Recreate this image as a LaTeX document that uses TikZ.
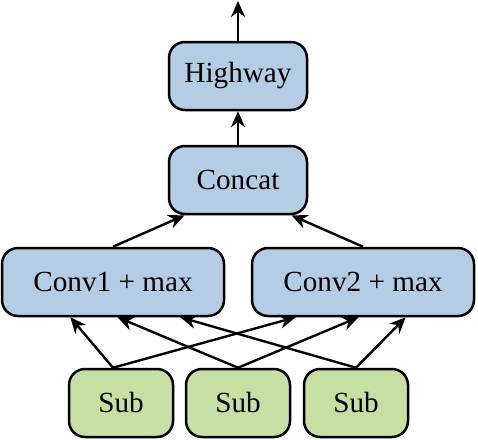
\documentclass[tikz,border=0pt]{standalone}
\usepackage{fontspec}
\setmainfont{Liberation Serif}
\usepackage{tikz}
\usetikzlibrary{arrows.meta}
\usetikzlibrary{calc}
\definecolor{layerblue}{RGB}{180,204,228}
\definecolor{subgreen}{RGB}{198,224,164}
\tikzstyle{block} = [rectangle, rounded corners=8pt, draw=black, line width=1.25pt, minimum height=34pt, align=center, font=\fontsize{14.6}{17}\selectfont]
\tikzstyle{toplayer} = [block, fill=layerblue, minimum width=69pt]
\tikzstyle{convlayer} = [block, fill=layerblue, minimum width=111pt]
\tikzstyle{subcell} = [block, fill=subgreen, minimum width=52pt]
\tikzstyle{arrow} = [-{Stealth[length=8pt, width=7pt]}, line width=1.2pt]

\begin{document}
\begin{tikzpicture}[x=0.5pt, y=-0.5pt]
\useasboundingbox (0,0) rectangle (478,440);
% Upper layers
\node[toplayer] (hw) at (238, 76) {Highway};
\node[toplayer] (cc) at (238, 180) {Concat};
% Convolution layers
\node[convlayer] (c1) at (113, 282) {Conv1 + max};
\node[convlayer] (c2) at (363, 282) {Conv2 + max};
% Sub inputs
\node[subcell] (s1) at (121, 403) {Sub};
\node[subcell] (s2) at (238, 403) {Sub};
\node[subcell] (s3) at (356, 403) {Sub};
% output end
\coordinate (out) at (238, 1);
% ARROWS
% output
\draw[arrow] (hw.north) -- (out);
\draw[arrow] (cc.north) -- (hw.south);
% conv -> concat
\draw[arrow] (c1.north) -- ($(cc.south west)!0.12!(cc.south east)$);
\draw[arrow] (c2.north) -- ($(cc.south west)!0.88!(cc.south east)$);
% sub -> conv1
\draw[arrow] ([xshift=-4pt]s1.north) -- ($(c1.south west)!0.31!(c1.south east)$);
\draw[arrow] (s2.north) -- ($(c1.south west)!0.52!(c1.south east)$);
\draw[arrow] (s3.north) -- ($(c1.south west)!0.80!(c1.south east)$);
% sub -> conv2
\draw[arrow] ([xshift=-4pt]s1.north) -- ($(c2.south west)!0.20!(c2.south east)$);
\draw[arrow] (s2.north) -- ($(c2.south west)!0.48!(c2.south east)$);
\draw[arrow] (s3.north) -- ($(c2.south west)!0.69!(c2.south east)$);
\end{tikzpicture}
\end{document}
